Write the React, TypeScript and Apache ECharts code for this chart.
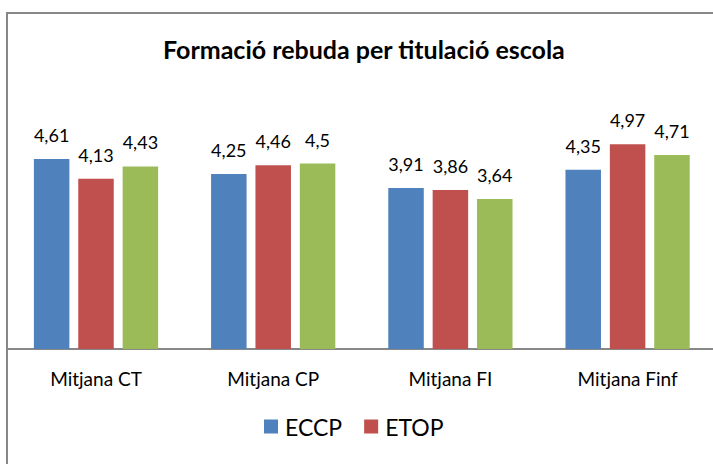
import React, { useEffect, useRef } from "react";
import * as echarts from "echarts";

const titleText = "Formació rebuda per titulació escola";
const categories = ["Mitjana CT", "Mitjana CP", "Mitjana FI", "Mitjana Finf"];
const seriesNames = ["ECCP", "ETOP", "Sèrie 3"];
const eccpValues = [4.61, 4.25, 3.91, 4.35];
const etopValues = [4.13, 4.46, 3.86, 4.97];
const thirdValues = [4.43, 4.5, 3.64, 4.71];
const legendNames = ["ECCP", "ETOP"];
const colors = ["#4F81BD", "#C0504D", "#9BBB59"];

const FONT = "Lato";

export default function App() {
  const ref = useRef<HTMLDivElement>(null);
  useEffect(() => {
    if (!ref.current) return;
    const chart = echarts.init(ref.current, null, { renderer: "svg" });
    const values = [eccpValues, etopValues, thirdValues];
    chart.setOption({
      animation: false,
      backgroundColor: "#ffffff",
      textStyle: { fontFamily: FONT },
      title: {
        text: titleText,
        left: 158,
        top: 31,
        textStyle: { fontFamily: FONT, fontWeight: "bold", fontSize: 25, color: "#000" },
      },
      graphic: [
        {
          type: "rect",
          shape: { x: 7, y: 13, width: 760, height: 500 },
          style: { fill: "none", stroke: "#878787", lineWidth: 2 },
          silent: true,
        },
      ],
      legend: {
        data: legendNames,
        left: 259,
        top: 410,
        itemWidth: 14,
        itemHeight: 14,
        itemGap: 22,
        icon: "rect",
        textStyle: { fontFamily: FONT, fontSize: 23, color: "#000", padding: [0, 0, 0, 2] },
      },
      grid: { left: 7.4, right: 13.8, top: 101.8, bottom: 131 },
      xAxis: {
        type: "category",
        data: categories,
        axisLine: { lineStyle: { color: "#878787", width: 2 } },
        axisTick: { show: false },
        axisLabel: { fontFamily: FONT, fontSize: 19, color: "#000", margin: 20 },
      },
      yAxis: {
        type: "value",
        min: 0,
        max: 6,
        show: false,
        splitLine: { show: false },
      },
      series: seriesNames.map((name, i) => ({
        name,
        type: "bar",
        data: values[i],
        barWidth: 35.5,
        barGap: "25%",
        itemStyle: { color: colors[i] },
        label: {
          show: true,
          position: "top",
          distance: 15,
          fontFamily: FONT,
          fontSize: 18,
          color: "#000",
          formatter: (p: any) => String(p.value).replace(".", ","),
        },
      })),
    });
    return () => chart.dispose();
  }, []);
  return (
    <div style={{ position: "absolute", left: 0, top: 0, width: 713, height: 464, overflow: "hidden", background: "#fff" }}>
      <div ref={ref} style={{ width: 730, height: 480 }} />
    </div>
  );
}
